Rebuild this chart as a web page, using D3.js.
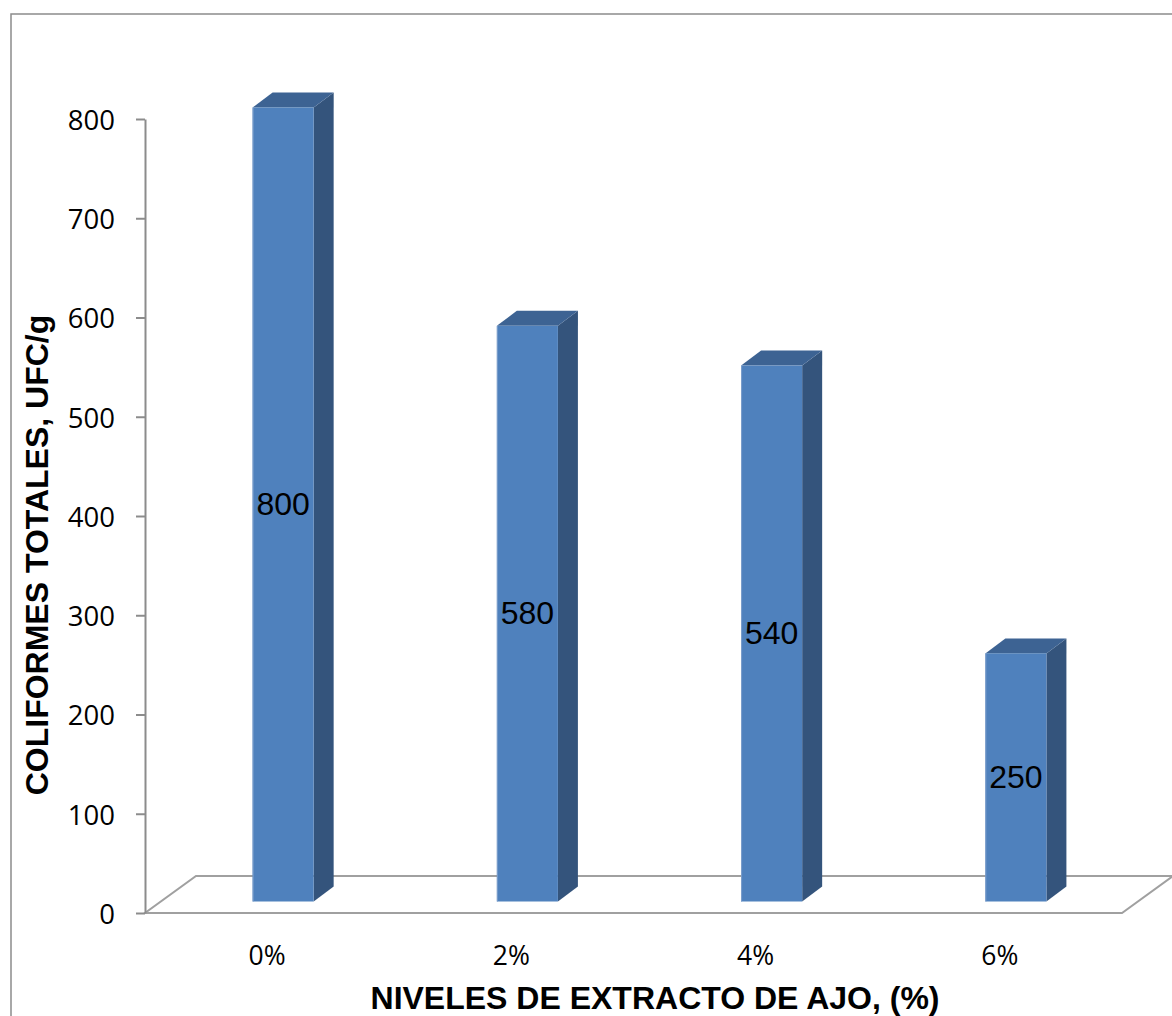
<!DOCTYPE html>
<html>
<head>
<meta charset="utf-8">
<script src="https://cdn.jsdelivr.net/npm/d3@7/dist/d3.min.js"></script>
<style>
  html, body { margin: 0; padding: 0; background: #fff; }
  svg { display: block; }
</style>
</head>
<body>
<script>
// Recuento de coliformes totales según el nivel de extracto de ajo
const categories = ["0%", "2%", "4%", "6%"];
const coliformes = [800, 580, 540, 250];
const yTicks = [0, 100, 200, 300, 400, 500, 600, 700, 800];

const W = 1172, H = 1016;
const svg = d3.select("body").append("svg").attr("width", W).attr("height", H);

// Marco exterior del gráfico
svg.append("rect")
  .attr("x", 11).attr("y", 14).attr("width", W + 40).attr("height", H + 40)
  .attr("fill", "none").attr("stroke", "#8c8c8c").attr("stroke-width", 1.5);

const x = d3.scaleBand().domain(categories).range([145, 1122]);
const y = d3.scaleLinear().domain([0, 800]).range([913, 119]);

// Profundidad del piso 3D y posición de las barras dentro de ella
const depth = { dx: 51, dy: -37 };
const barShift = { dx: 16, dy: -11.5 };
const barW = x.bandwidth() * 0.25;
const barDepth = { dx: 20, dy: -15 };

const floorColor = "#a0a0a0";
const tickFont = "'Open Sans', 'Noto Sans', sans-serif";
const labelFont = "'Liberation Sans', Arial, sans-serif";

// Piso
const fx0 = x.range()[0], fx1 = x.range()[1], fy = y(0);
svg.append("path")
  .attr("d", `M${fx0},${fy} L${fx1},${fy} L${fx1 + depth.dx},${fy + depth.dy} L${fx0 + depth.dx},${fy + depth.dy} Z`)
  .attr("fill", "none").attr("stroke", floorColor).attr("stroke-width", 2);

// Eje Y
const axis = d3.axisLeft(y).tickValues(yTicks).tickSize(9).tickSizeOuter(0).tickPadding(21);
const gy = svg.append("g").attr("transform", "translate(145,0)").call(axis);
gy.select(".domain").attr("stroke", "#8c8c8c").attr("stroke-width", 2);
gy.selectAll(".tick line").attr("stroke", "#8c8c8c").attr("stroke-width", 2);
gy.selectAll(".tick text")
  .attr("fill", "#000")
  .style("font-family", tickFont)
  .style("font-size", "27.5px")
  .attr("dy", "0.38em");

// Barras 3D
const bars = svg.append("g");
categories.forEach((c, i) => {
  const v = coliformes[i];
  const cx = x(c) + x.bandwidth() / 2 + barShift.dx;
  const x0 = cx - barW / 2, x1 = cx + barW / 2;
  const yTop = y(v) + barShift.dy, yBot = y(0) + barShift.dy;
  const g = bars.append("g");
  // cara lateral
  g.append("path")
    .attr("d", `M${x1},${yTop} L${x1 + barDepth.dx},${yTop + barDepth.dy} L${x1 + barDepth.dx},${yBot + barDepth.dy} L${x1},${yBot} Z`)
    .attr("fill", "#34547c");
  // cara superior
  g.append("path")
    .attr("d", `M${x0},${yTop} L${x0 + barDepth.dx},${yTop + barDepth.dy} L${x1 + barDepth.dx},${yTop + barDepth.dy} L${x1},${yTop} Z`)
    .attr("fill", "#3d6393");
  // cara frontal
  g.append("rect")
    .attr("x", x0).attr("y", yTop).attr("width", barW).attr("height", yBot - yTop)
    .attr("fill", "#4f81bd");
  g.append("line")
    .attr("x1", x0 + 0.5).attr("x2", x0 + 0.5).attr("y1", yTop).attr("y2", yBot)
    .attr("stroke", "#7d9fcc").attr("stroke-width", 1);
  // etiqueta de valor
  g.append("text")
    .attr("x", cx).attr("y", (yTop + yBot) / 2)
    .attr("dy", "0.32em")
    .attr("text-anchor", "middle")
    .style("font-family", labelFont)
    .style("font-size", "32px")
    .attr("fill", "#000")
    .text(v);
});

// Etiquetas de categorías
svg.append("g").selectAll("text").data(categories).join("text")
  .attr("x", d => x(d) + x.bandwidth() / 2)
  .attr("y", 965)
  .attr("text-anchor", "middle")
  .style("font-family", tickFont)
  .style("font-size", "26.5px")
  .attr("fill", "#000")
  .text(d => d);

// Títulos de ejes
svg.append("text")
  .attr("x", 655).attr("y", 1009)
  .attr("text-anchor", "middle")
  .style("font-family", labelFont)
  .style("font-size", "32px").style("font-weight", "bold")
  .attr("fill", "#000")
  .text("NIVELES DE EXTRACTO DE AJO, (%)");

svg.append("text")
  .attr("transform", "translate(48,555) rotate(-90)")
  .attr("text-anchor", "middle")
  .style("font-family", labelFont)
  .style("font-size", "32px").style("font-weight", "bold")
  .attr("fill", "#000")
  .text("COLIFORMES TOTALES, UFC/g");
</script>
</body>
</html>
